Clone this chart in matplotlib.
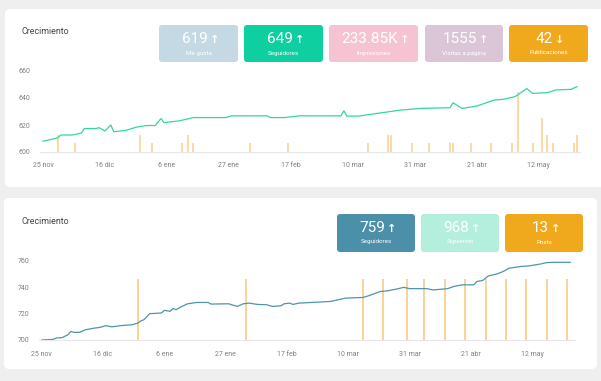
import matplotlib.pyplot as plt
from matplotlib.patches import FancyBboxPatch

# --- data ---
tick_days = [0, 21, 42, 63, 84, 105, 126, 147, 168]
tick_labels = ['25 nov', '16 dic', '6 ene', '27 ene', '17 feb',
               '10 mar', '31 mar', '21 abr', '12 may']

# top panel: followers line (day index from 25 nov) + posts per day
top_days = [0, 5, 6, 10, 13, 14, 18, 19, 21, 23, 24, 28, 32, 35, 38, 40, 41,
            46, 51, 62, 64, 76, 77, 82, 87, 101, 102, 103, 107, 113, 121, 128,
            138, 139, 142, 147, 153, 156, 160, 164, 166, 171, 174, 179, 181]
top_values = [608, 610.4, 612.6, 612.6, 614, 617.4, 617.4, 618, 615.6, 620,
              615, 616, 618.6, 619.6, 619.6, 624.8, 621.8, 623, 625.5, 625.5,
              626.8, 626.8, 625.5, 625.5, 626.8, 626.8, 630.5, 626.6, 626.6,
              628.5, 631, 632.3, 632.8, 636.5, 632.3, 634, 638.5, 639, 641,
              647, 643.4, 644, 646, 646.4, 648.4]
top_post_days = [5, 11, 33, 37, 47, 49, 51, 70, 83, 110, 117, 118, 125, 131,
                 138, 139, 145, 152, 159, 161, 166, 169, 171, 173, 180, 181]
top_post_counts = [2, 1, 2, 1, 1, 2, 1, 1, 1, 1, 2, 2, 1, 1,
                   1, 1, 1, 1, 1, 7, 1, 4, 2, 1, 1, 2]

# bottom panel
bot_days = [0, 4, 5, 7, 9, 10, 11, 13, 15, 18, 20, 22, 24, 27, 31, 33, 34, 35,
            37, 41, 42, 44, 45, 46, 48, 50, 53, 57, 58, 64, 67, 69, 71, 74, 77,
            79, 82, 83, 85, 86, 88, 99, 104, 110, 112, 116, 118, 122, 124, 126,
            132, 134, 139, 141, 144, 148, 149, 151, 153, 156, 158, 160, 164,
            167, 171, 173, 176, 181]
bot_values = [700, 700.5, 701.5, 701.8, 704, 706.5, 705.8, 705.8, 707.8, 709,
              709.6, 710.9, 710, 710.9, 711.6, 712.9, 714.6, 715.4, 720, 720.5,
              722.5, 721.8, 724, 723, 725.5, 727.5, 728.5, 728.5, 727.3, 727.5,
              725.5, 727.5, 728, 727, 726.8, 725.5, 726, 727.5, 728, 727, 728,
              729.3, 731.8, 732.3, 733.6, 736.9, 737.2, 738.9, 740, 739, 739,
              738, 739, 740.6, 741.9, 741.9, 744.4, 745.2, 748.7, 750.2, 752,
              754.5, 755.8, 756.3, 757.8, 758.8, 759, 759]
bot_post_days = [33, 70, 110, 117, 125, 131, 138, 145, 152, 159, 166, 173, 180]
bot_post_counts = [1] * 13

top_kpi_values = ['619', '649', '233.85K', '1555', '42']
top_kpi_arrows = ['↑', '↑', '↑', '↑', '↓']
top_kpi_labels = ['Me gusta', 'Seguidores', 'Impresiones', 'Visitas a página', 'Publicaciones']
top_kpi_colors = ['#c4d9e3', '#0dcf9f', '#f6c3d3', '#dbc6d8', '#f0a81c']

bot_kpi_values = ['759', '968', '13']
bot_kpi_arrows = ['↑', '↑', '↑']
bot_kpi_labels = ['Seguidores', 'Siguiendo', 'Posts']
bot_kpi_colors = ['#4b8fa9', '#b4eedd', '#f0a81c']

W, H = 601, 381
FONT = ['Roboto', 'DejaVu Sans']
plt.rcParams['font.family'] = FONT

fig = plt.figure(figsize=(W / 100, H / 100), dpi=100)
fig.patch.set_facecolor('#efefef')

# background layer in pixel coordinates
bg = fig.add_axes([0, 0, 1, 1])
bg.set_xlim(0, W)
bg.set_ylim(H, 0)
bg.axis('off')


def box(x0, y0, x1, y1, color, r=4):
    bg.add_patch(FancyBboxPatch((x0 + r, y0 + r), x1 - x0 - 2 * r, y1 - y0 - 2 * r,
                                boxstyle=f'round,pad={r}', fc=color, ec='none'))


def px_axes(x0, y_top, x1, y_bot):
    return fig.add_axes([x0 / W, 1 - y_bot / H, (x1 - x0) / W, (y_bot - y_top) / H])


def kpis(xs, y0, y1, values, arrows, labels, colors):
    for (x0, x1), v, a, lab, c in zip(xs, values, arrows, labels, colors):
        box(x0, y0, x1, y1, c, r=3)
        cx = (x0 + x1) / 2
        num = bg.text(cx - 4, y0 + 14, v, ha='center', va='center', color='white',
                      fontsize=11)
        # small arrow just right of the number
        bg.annotate(a, xy=(1, 0.45), xycoords=num, xytext=(1.5, 0),
                    textcoords='offset points', ha='left', va='center',
                    color='white', fontsize=8, fontweight='bold',
                    family=['DejaVu Sans'])
        bg.text(cx, y0 + 28, lab, ha='center', va='center', color='white', fontsize=4.5)


def chart(ax, days, values, line_color, post_days, post_counts, bar_color,
          ylim, yticks, bar_top, bar_lw, label_pad):
    tw = ax.twinx()
    tw.vlines(post_days, 0, post_counts, color=bar_color, lw=bar_lw)
    tw.set_ylim(0, bar_top)
    tw.axis('off')
    ax.set_zorder(tw.get_zorder() + 1)
    ax.patch.set_visible(False)
    ax.plot(days, values, color=line_color, lw=0.9)
    ax.set_ylim(*ylim)
    ax.set_yticks(yticks)
    ax.set_xticks(tick_days)
    ax.set_xticklabels(tick_labels)
    for s in ['top', 'right', 'left']:
        ax.spines[s].set_visible(False)
    ax.spines['bottom'].set_color('#e6e6e6')
    ax.tick_params(axis='both', length=0, labelsize=5, labelcolor='#808080')
    ax.tick_params(axis='x', pad=label_pad)
    ax.tick_params(axis='y', pad=7)


# top card
box(5, 9, 612, 187, 'white', r=5)
bg.text(21, 32, 'Crecimiento', ha='left', va='center', fontsize=6.4, color='#444444')
kpis([(159, 238), (244, 323), (329, 418), (425, 503), (509, 588)], 25, 62,
     top_kpi_values, top_kpi_arrows, top_kpi_labels, top_kpi_colors)
ax1 = px_axes(40, 71, 580, 152)
ax1.set_xlim((40 - 43) / 2.95, (580 - 43) / 2.95)
chart(ax1, top_days, top_values, '#33d6a2', top_post_days, top_post_counts,
      '#f8d397', (600, 660), [600, 620, 640, 660], 9.5, 1.2, 7)

# bottom card
box(4, 198, 597, 369, 'white', r=5)
bg.text(21, 222, 'Crecimiento', ha='left', va='center', fontsize=6.4, color='#444444')
kpis([(337, 415), (421, 499), (505, 583)], 214, 252,
     bot_kpi_values, bot_kpi_arrows, bot_kpi_labels, bot_kpi_colors)
ax2 = px_axes(39, 261, 575, 340)
ax2.set_xlim((39 - 41.7) / 2.92, (575 - 41.7) / 2.92)
chart(ax2, bot_days, bot_values, '#4e94ad', bot_post_days, bot_post_counts,
      '#f8d397', (700, 760), [700, 720, 740, 760], 60 / 46, 1.4, 8)

fig.savefig('out.png', dpi=100, facecolor=fig.get_facecolor())
